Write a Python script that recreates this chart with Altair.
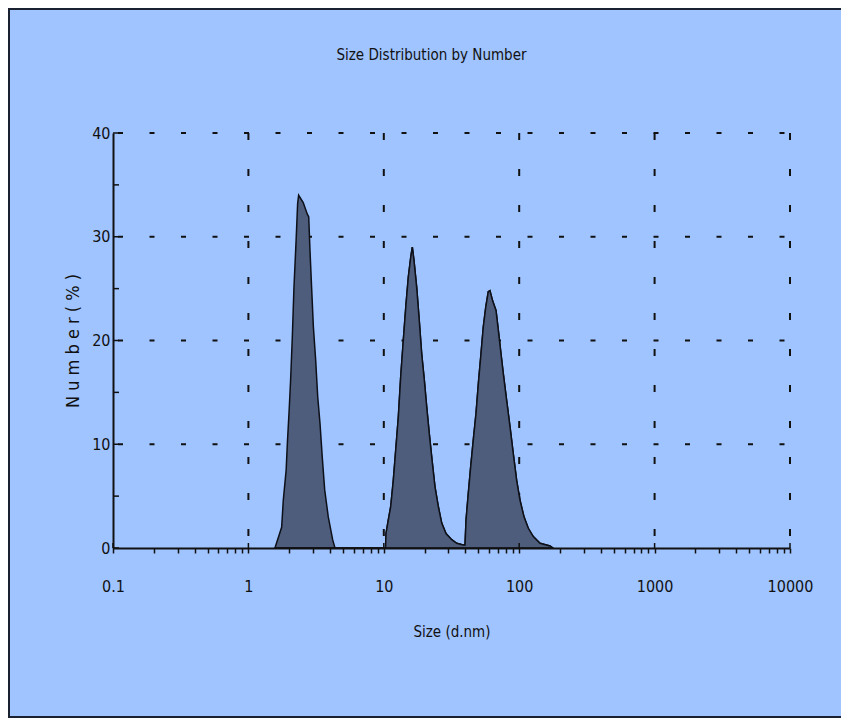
import altair as alt
import pandas as pd

# ---- data ----
peak1_size = [1.57, 1.76, 1.81, 1.90, 1.94, 2.00, 2.05, 2.11, 2.17, 2.25, 2.31, 2.35,
              2.54, 2.72, 2.79, 2.85, 2.93, 3.02, 3.14, 3.25, 3.38, 3.51, 3.66, 3.89, 4.19, 4.36]
peak1_number = [0, 2.0, 4.6, 7.5, 10.1, 13.3, 16.2, 20.3, 25.1, 29.6, 33.2, 34.0,
                33.3, 32.2, 31.9, 28.7, 25.1, 21.3, 18.1, 14.6, 12.0, 8.8, 5.6, 3.0, 0.8, 0]

peak23_size = [10.3, 10.38, 10.80, 11.25, 11.75, 12.24, 12.80, 13.33, 13.93, 14.59, 15.17,
               15.80, 16.24, 16.71, 17.50, 18.28, 19.05, 19.91, 20.74, 21.68, 22.70, 23.88,
               25.27, 26.77, 28.80, 31.73, 34.55, 38.6,
               39.8, 40.5, 42.1, 43.8, 45.8, 48.0, 50.2, 52.2, 54.3, 56.6, 59.1, 60.8, 63.7,
               67.4, 70.1, 73.4, 76.3, 80.8, 85.5, 90.4, 95.8, 101.4, 108.5, 116.7, 127.1,
               142.5, 168.8, 177.6]
peak23_number = [0, 1.4, 2.7, 4.0, 6.5, 9.4, 12.6, 16.5, 20.0, 23.5, 26.1,
                 28.0, 29.0, 27.7, 25.1, 21.9, 18.7, 16.2, 13.6, 11.0, 8.5, 5.9,
                 4.0, 2.4, 1.4, 0.8, 0.45, 0.3,
                 0.3, 2.7, 5.3, 7.8, 10.4, 13.0, 16.2, 18.7, 21.3, 23.2, 24.7, 24.8, 23.8,
                 22.9, 21.0, 18.7, 16.8, 14.2, 11.7, 9.1, 6.5, 4.6, 3.0, 1.9, 1.1,
                 0.45, 0.2, 0]

x_major_ticks = [0.1, 1, 10, 100, 1000, 10000]
x_minor_multipliers = [1, 2, 3, 4, 5, 6, 7, 8, 9]
y_label_ticks = [0, 10, 20, 30, 40]
y_tick_marks = [0, 5, 10, 15, 20, 25, 30, 35, 40]
x_grid_values = [1, 10, 100, 1000, 10000]
y_grid_values = [10, 20, 30, 40]

# ---- derived ----
x_tick_values = sorted({round(m * d, 6) for d in x_major_ticks[:-1] for m in x_minor_multipliers} | {10000})

df = pd.DataFrame({
    "size": peak1_size + peak23_size,
    "number": peak1_number + peak23_number,
    "peak": ["p1"] * len(peak1_size) + ["p2"] * len(peak23_size),
})

W, H = 677, 415
FONT = "Liberation Sans Narrow, DejaVu Sans Condensed, sans-serif"
INK = "#111111"
BG = "#a0c4ff"

x_scale = alt.Scale(type="log", domain=[0.1, 10000], nice=False)
y_scale = alt.Scale(domain=[0, 40], nice=False)

x_axis = alt.Axis(
    values=x_tick_values, title="Size (d.nm)", grid=False,
    labelExpr="abs(log(datum.value)/LN10 - round(log(datum.value)/LN10)) < 1e-6 ? format(datum.value, '~g') : ''",
    labelOverlap=False, labelFlush=False,
    tickSize=5, tickWidth=1.5, tickColor=INK,
    domainColor=INK, domainWidth=2,
    labelFont=FONT, labelFontSize=16, labelColor=INK, labelPadding=25,
    titleFont=FONT, titleFontSize=15, titleFontWeight="normal", titleColor=INK,
    titlePadding=30, zindex=1,
)
y_axis = alt.Axis(
    values=y_label_ticks, title="N u m b e r  ( % )", grid=False,
    ticks=False, tickSize=0,
    domainColor=INK, domainWidth=2,
    labelFont=FONT, labelFontSize=16, labelColor=INK, labelPadding=3,
    titleFont=FONT, titleFontSize=18, titleFontWeight="normal", titleColor=INK,
    titlePadding=9, zindex=1,
)

xgrid = alt.Chart(pd.DataFrame({"size": x_grid_values})).mark_rule(
    stroke=INK, strokeWidth=2, strokeDash=[7, 29]
).encode(
    x=alt.X("size:Q", scale=x_scale, axis=x_axis),
    y=alt.value(0), y2=alt.value(H),
)

ygrid = alt.Chart(pd.DataFrame({"number": y_grid_values})).mark_rule(
    stroke=INK, strokeWidth=2, strokeDash=[5, 26.5], strokeDashOffset=26.5
).encode(
    y=alt.Y("number:Q", scale=y_scale, axis=y_axis),
    x=alt.value(0), x2=alt.value(W),
)

area = alt.Chart(df).mark_area(
    fill="#4e5d7b", stroke="#0d1018", strokeWidth=1.5
).encode(
    x=alt.X("size:Q", scale=x_scale, axis=x_axis),
    y=alt.Y("number:Q", scale=y_scale, axis=y_axis),
    detail="peak:N",
)

yticks = alt.Chart(pd.DataFrame({"number": y_tick_marks})).mark_rule(
    stroke=INK, strokeWidth=1.5
).encode(
    y=alt.Y("number:Q", scale=y_scale, axis=y_axis),
    x=alt.value(0), x2=alt.value(6),
)

xmajor_up = alt.Chart(pd.DataFrame({"size": x_major_ticks})).mark_rule(
    stroke=INK, strokeWidth=1.5
).encode(
    x=alt.X("size:Q", scale=x_scale, axis=x_axis),
    y=alt.value(H), y2=alt.value(H - 5),
)

frame = alt.Chart(pd.DataFrame({"a": [0]})).mark_rect(
    fillOpacity=0, stroke="#1a2130", strokeWidth=2
).encode(
    x=alt.value(-104), x2=alt.value(W + 80),
    y=alt.value(-124), y2=alt.value(H + 169),
)

chart = alt.layer(xgrid, ygrid, area, yticks, xmajor_up, frame).properties(
    width=W, height=H,
    title=alt.Title("Size Distribution by Number", font=FONT, fontSize=15,
                    fontWeight="normal", color=INK, frame="group", anchor="middle",
                    dx=-20, offset=-55),
    autosize=alt.AutoSizeParams(type="none"),
    padding={"left": 105, "top": 125, "right": 51, "bottom": 170},
    background=BG,
).configure_view(stroke=None)

chart.save("out.html", embed_options={"renderer": "svg", "actions": False})
